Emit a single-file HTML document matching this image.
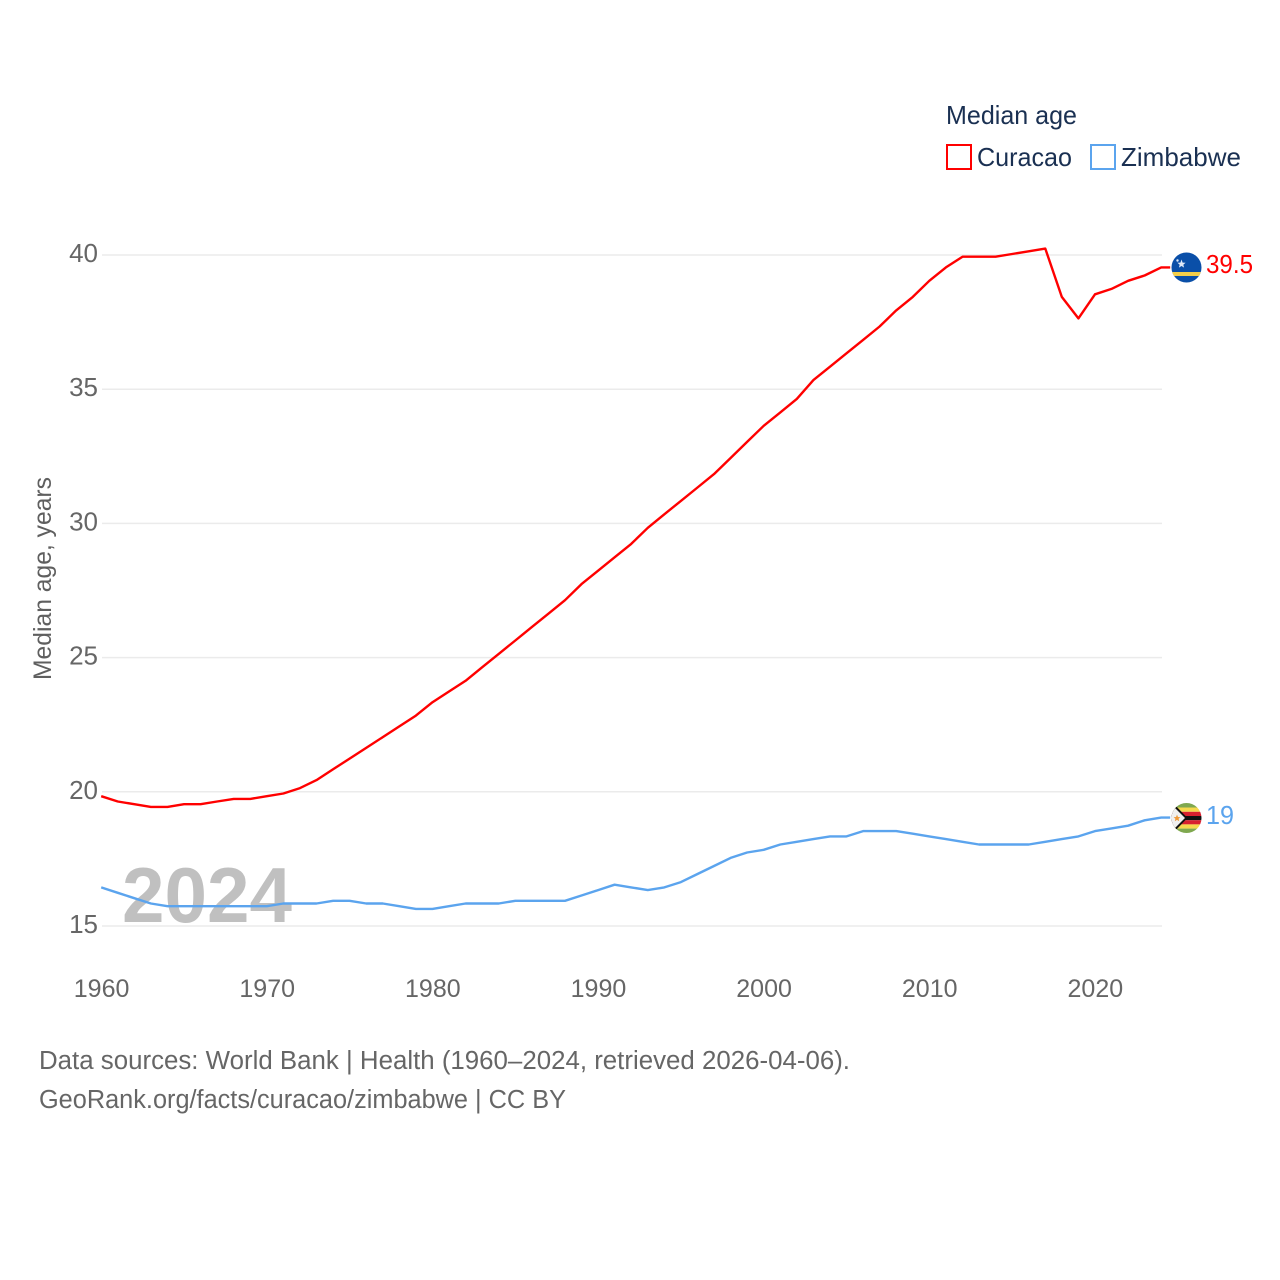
<!DOCTYPE html>
<html lang="en">
<head>
<meta charset="utf-8">
<title>Median age: Curacao and Zimbabwe</title>
<style>
html,body{margin:0;padding:0;background:#fff;}
svg{display:block;font-family:"Liberation Sans",Arial,sans-serif;}
</style>
</head>
<body>
<svg id="chart" xmlns="http://www.w3.org/2000/svg" width="1280" height="1280" viewBox="0 0 1280 1280">
  <rect width="1280" height="1280" fill="#fff"/>
  <g id="grid"></g>
  <g id="yticks"></g>
  <g id="xticks"></g>
  <text transform="translate(51,680) rotate(-90)" font-size="25" fill="#5f5f5f" textLength="203" lengthAdjust="spacingAndGlyphs">Median age, years</text>
  <text x="122" y="922" font-size="78" font-weight="700" fill="#8c8c8c" fill-opacity="0.55" textLength="170" lengthAdjust="spacingAndGlyphs">2024</text>
  <g id="series" transform="translate(-0.8,-1)"></g>

  <g>
    <text x="946" y="124" font-size="26" fill="#1a3052" textLength="131" lengthAdjust="spacingAndGlyphs">Median age</text>
    <g>
      <rect x="947" y="145" width="24" height="24" fill="#fff" stroke="#ff0000" stroke-width="2"/>
      <text x="977" y="166" font-size="26" fill="#1a3052" textLength="95" lengthAdjust="spacingAndGlyphs">Curacao</text>
    </g>
    <g>
      <rect x="1091" y="145" width="24" height="24" fill="#fff" stroke="#5ba4ee" stroke-width="2"/>
      <text x="1121" y="166" font-size="26" fill="#1a3052" textLength="120" lengthAdjust="spacingAndGlyphs">Zimbabwe</text>
    </g>
  </g>

  <defs>
    <clipPath id="clip-cw"><circle cx="1186.5" cy="267.5" r="15"/></clipPath>
    <clipPath id="clip-zw"><circle cx="1186.5" cy="818" r="15"/></clipPath>
  </defs>
  <g clip-path="url(#clip-cw)">
    <rect x="1171" y="252" width="31" height="31" fill="#0a4fa8"/>
    <rect x="1171" y="272" width="31" height="4" fill="#f4cf4a"/>
    <polygon points="1181.5,259.5 1182.6,262.6 1185.6,262.8 1183.3,264.7 1184.1,267.6 1181.5,266 1178.9,267.6 1179.7,264.7 1177.4,262.8 1180.4,262.6" fill="#dfe9f7"/>
    <circle cx="1177.5" cy="260.5" r="1.2" fill="#dfe9f7"/>
  </g>
  <g clip-path="url(#clip-zw)">
    <rect x="1171" y="803" width="31" height="4.5" fill="#7fa84f"/>
    <rect x="1171" y="807.5" width="31" height="4.3" fill="#f6d84c"/>
    <rect x="1171" y="811.8" width="31" height="4.2" fill="#d8202f"/>
    <rect x="1171" y="816" width="31" height="4.2" fill="#111"/>
    <rect x="1171" y="820.2" width="31" height="4.2" fill="#d8202f"/>
    <rect x="1171" y="824.4" width="31" height="4.2" fill="#f6d84c"/>
    <rect x="1171" y="828.6" width="31" height="4.5" fill="#7fa84f"/>
    <polygon points="1171,803 1173,803 1187.5,818 1173,833 1171,833" fill="#111"/>
    <polygon points="1171,804 1185,818 1171,832" fill="#f0f0f0"/>
    <polygon points="1177,814.6 1178,817 1180.4,817.2 1178.6,818.8 1179.2,821.2 1177,819.9 1174.8,821.2 1175.4,818.8 1173.6,817.2 1176,817" fill="#ef9a3a"/>
  </g>
  <text x="1206" y="273" font-size="25.5" fill="#ff0000" textLength="47" lengthAdjust="spacingAndGlyphs">39.5</text>
  <text x="1206" y="824" font-size="25.5" fill="#5ba4ee" textLength="28" lengthAdjust="spacingAndGlyphs">19</text>

  <text x="39" y="1069" font-size="25.5" fill="#666" textLength="811" lengthAdjust="spacingAndGlyphs">Data sources: World Bank | Health (1960–2024, retrieved 2026-04-06).</text>
  <text x="39" y="1108" font-size="25.5" fill="#666" textLength="527" lengthAdjust="spacingAndGlyphs">GeoRank.org/facts/curacao/zimbabwe | CC BY</text>
</svg>
<script>
const startYear = 1960;
const curacaoValues = [19.8,19.6,19.5,19.4,19.4,19.5,19.5,19.6,19.7,19.7,19.8,19.9,20.1,20.4,20.8,21.2,21.6,22.0,22.4,22.8,23.3,23.7,24.1,24.6,25.1,25.6,26.1,26.6,27.1,27.7,28.2,28.7,29.2,29.8,30.3,30.8,31.3,31.8,32.4,33.0,33.6,34.1,34.6,35.3,35.8,36.3,36.8,37.3,37.9,38.4,39.0,39.5,39.9,39.9,39.9,40.0,40.1,40.2,38.4,37.6,38.5,38.7,39.0,39.2,39.5];
const zimbabweValues = [16.4,16.2,16.0,15.8,15.7,15.7,15.7,15.7,15.7,15.7,15.7,15.8,15.8,15.8,15.9,15.9,15.8,15.8,15.7,15.6,15.6,15.7,15.8,15.8,15.8,15.9,15.9,15.9,15.9,16.1,16.3,16.5,16.4,16.3,16.4,16.6,16.9,17.2,17.5,17.7,17.8,18.0,18.1,18.2,18.3,18.3,18.5,18.5,18.5,18.4,18.3,18.2,18.1,18.0,18.0,18.0,18.0,18.1,18.2,18.3,18.5,18.6,18.7,18.9,19.0];
const yTickValues = [15,20,25,30,35,40];
const xTickValues = [1960,1970,1980,1990,2000,2010,2020];

const NS = 'http://www.w3.org/2000/svg';
function xScale(year){ return 102 + (year - 1960) * (1060 / 64); }
function yScale(v){ return 926 - (v - 15) * (671 / 25); }
function make(tag, attrs, parent){
  const el = document.createElementNS(NS, tag);
  for (const k in attrs) el.setAttribute(k, attrs[k]);
  parent.appendChild(el);
  return el;
}
const grid = document.getElementById('grid');
const yticks = document.getElementById('yticks');
const xticks = document.getElementById('xticks');
const series = document.getElementById('series');

yTickValues.forEach(function(v){
  const line = make('line', {x1:102, x2:1162, y1:yScale(v), y2:yScale(v), stroke:'#ebebeb', 'stroke-width':1.5}, grid);
  
  
  const t = make('text', {x:98, y:yScale(v) + 7, 'text-anchor':'end', 'font-size':26, fill:'#666'}, yticks);
  
  
  t.textContent = v;
});
xTickValues.forEach(function(y){
  const t = make('text', {x:xScale(y) - 0.4, y:997, 'text-anchor':'middle', 'font-size':25, fill:'#666'}, xticks);
  
  
  t.textContent = y;
});
function drawSeries(values, color, name){
  const pts = values.map(function(v, i){ return xScale(startYear + i).toFixed(1) + ',' + yScale(v).toFixed(1); });
  const lastY = yScale(values[values.length - 1]).toFixed(1);
  pts.push('1171,' + lastY);
  const p = make('polyline', {points:pts.join(' '), fill:'none', stroke:color, 'stroke-width':2.4, 'stroke-linejoin':'round'}, series);
  
  
}
drawSeries(curacaoValues, '#ff0000', 'line-curacao');
drawSeries(zimbabweValues, '#5ba4ee', 'line-zimbabwe');
</script>
</body>
</html>
